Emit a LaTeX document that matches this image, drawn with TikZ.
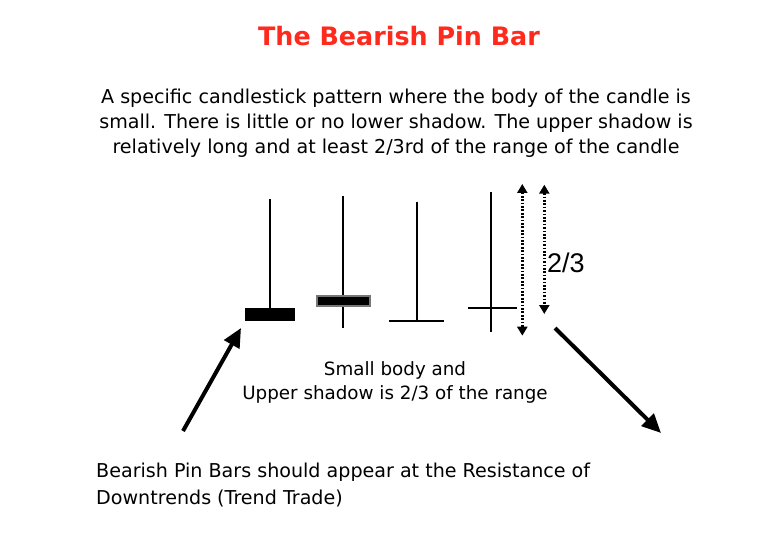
\documentclass[tikz,border=0pt]{standalone}
\usepackage{fontspec}
\setmainfont{DejaVu Sans}
\newfontfamily\helv{Liberation Sans}
\usetikzlibrary{arrows.meta}
\definecolor{titlered}{HTML}{FF2A1E}
\definecolor{rimgray}{HTML}{777777}
\begin{document}
\begin{tikzpicture}[x=1pt,y=-1pt,
  txt/.style={inner sep=0pt, font=\fontsize{19.1}{23}\selectfont},
  captxt/.style={inner sep=0pt, font=\fontsize{18.3}{22}\selectfont},
  wick/.style={line width=1.7pt},
  dotarrow/.style={line width=2.5pt, dash pattern=on 1.7pt off 1.7pt, {Triangle[width=10pt,length=9pt]}-{Triangle[width=10pt,length=9pt]}},
  bigarrow/.style={line width=4pt, -{Triangle[width=17pt,length=19pt]}}]
\useasboundingbox (0,0) rectangle (775,537);
\fill[white] (0,0) rectangle (775,537);
% title
\node[inner sep=0pt, anchor=base, text=titlered, font=\fontsize{25.4}{30}\selectfont\bfseries] (title) at (399,46) {The Bearish Pin Bar};
% paragraph
\node[txt, anchor=base] (p1) at (396,104) {A specific candlestick pattern where the body of the candle is};
\node[txt, anchor=base] (p2) at (396,129) {small. There is little or no lower shadow. The upper shadow is};
\node[txt, anchor=base] (p3) at (396,154) {relatively long and at least 2/3rd of the range of the candle};
% candle 1
\draw[wick] (270,199) -- (270,309);
\fill (245,308) rectangle (295,321);
% candle 2
\draw[wick] (343.3,196) -- (343.3,327.7);
\draw[fill=black, draw=rimgray, line width=2pt] (317,296.3) rectangle (370.3,305.7);
% candle 3
\draw[wick] (416.7,202) -- (416.7,320.7);
\draw[wick] (389,320.7) -- (444,320.7);
% candle 4
\draw[wick] (490.7,192) -- (490.7,331.7);
\draw[wick] (468,308.3) -- (516.7,308.3);
% dotted range arrows
\coordinate (r1t) at (522.3,184);
\coordinate (r1b) at (522.3,335.7);
\coordinate (r2t) at (544.3,184.7);
\coordinate (r2b) at (544.3,314);
\draw[dotarrow] (r1t) -- (r1b);
\draw[dotarrow] (r2t) -- (r2b);
\node[inner sep=0pt, anchor=base west, font=\helv\fontsize{27}{31}\selectfont] (frac) at (547,272) {2/3};
% caption
\node[captxt, anchor=base] (c1) at (395,375) {Small body and};
\node[captxt, anchor=base] (c2) at (395,399) {Upper shadow is 2/3 of the range};
% big arrows
\coordinate (a1s) at (183,431);
\coordinate (a1e) at (241,328);
\coordinate (a2s) at (555,328);
\coordinate (a2e) at (661,433);
\draw[bigarrow] (a1s) -- (a1e);
\draw[bigarrow] (a2s) -- (a2e);
% bottom text
\node[txt, anchor=base west] (b1) at (96,477) {Bearish Pin Bars should appear at the Resistance of};
\node[txt, anchor=base west] (b2) at (96,504) {Downtrends (Trend Trade)};
\end{tikzpicture}
\end{document}
